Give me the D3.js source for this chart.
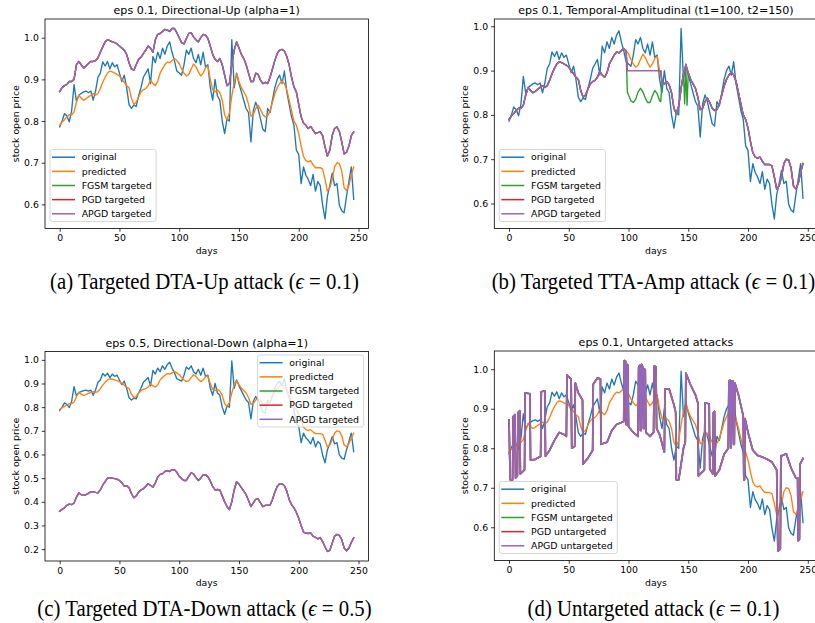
<!DOCTYPE html>
<html>
<head>
<meta charset="utf-8">
<script src="https://cdn.jsdelivr.net/npm/d3@7"></script>
<style>
body { margin: 0; background: #fff; }
svg text { font-family: "DejaVu Sans", sans-serif; fill: #000; }
.caption { font-family: "Liberation Serif", "DejaVu Serif", serif; }
</style>
</head>
<body>
<svg id="fig" width="815" height="623"></svg>
<script>
'use strict';

// one value every 2 days, days 0..246
var step = 2;

var original = [
  0.786, 0.800, 0.818, 0.812, 0.798, 0.825, 0.887, 0.848, 0.862, 0.866,
  0.870, 0.872, 0.868, 0.872, 0.850, 0.872, 0.905, 0.915, 0.942, 0.932,
  0.943, 0.925, 0.940, 0.930, 0.935, 0.915, 0.895, 0.910, 0.880, 0.840,
  0.830, 0.838, 0.835, 0.860, 0.880, 0.905, 0.915, 0.925, 0.890, 0.955,
  0.940, 0.965, 0.950, 0.975, 0.960, 0.980, 0.990, 0.965, 0.945, 0.920,
  0.915, 0.910, 0.935, 0.970, 0.960, 0.975, 0.950, 0.940, 0.960, 0.935,
  0.965, 0.930, 0.935, 0.880, 0.850, 0.900, 0.860, 0.850, 0.800, 0.770,
  0.805, 0.800, 0.995, 0.880, 0.915, 0.890, 0.870, 0.850, 0.830, 0.820,
  0.750, 0.825, 0.845, 0.830, 0.805, 0.780, 0.775, 0.830, 0.820, 0.850,
  0.880, 0.900, 0.910, 0.890, 0.920, 0.870, 0.840, 0.810, 0.790, 0.730,
  0.720, 0.650, 0.690, 0.670, 0.660, 0.645, 0.672, 0.632, 0.655, 0.645,
  0.598, 0.565, 0.620, 0.645, 0.675, 0.645, 0.650, 0.598, 0.585, 0.580,
  0.620, 0.655, 0.690, 0.612
];

var predicted = [
  0.790, 0.798, 0.803, 0.810, 0.815, 0.815, 0.822, 0.845, 0.862, 0.855,
  0.850, 0.853, 0.858, 0.862, 0.866, 0.862, 0.866, 0.878, 0.893, 0.905,
  0.915, 0.920, 0.918, 0.915, 0.912, 0.908, 0.900, 0.893, 0.885, 0.880,
  0.855, 0.840, 0.845, 0.858, 0.870, 0.875, 0.878, 0.885, 0.898, 0.890,
  0.885, 0.895, 0.915, 0.925, 0.935, 0.942, 0.940, 0.945, 0.950, 0.945,
  0.938, 0.925, 0.915, 0.908, 0.912, 0.925, 0.937, 0.930, 0.918, 0.908,
  0.915, 0.928, 0.932, 0.900, 0.875, 0.870, 0.875, 0.868, 0.850, 0.815,
  0.803, 0.820, 0.860, 0.893, 0.913, 0.895, 0.880, 0.870, 0.860, 0.840,
  0.812, 0.815, 0.830, 0.838, 0.828, 0.815, 0.810, 0.812, 0.825, 0.845,
  0.865, 0.880, 0.890, 0.896, 0.890, 0.875, 0.850, 0.825, 0.800, 0.790,
  0.770, 0.740, 0.715, 0.705, 0.702, 0.705, 0.695, 0.688, 0.688, 0.688,
  0.685, 0.660, 0.632, 0.640, 0.660, 0.690, 0.700, 0.698, 0.680, 0.640,
  0.633, 0.645, 0.670, 0.690
];

// (a) directional-up, eps 0.1
var upApgd = [
  0.871, 0.880, 0.885, 0.888, 0.895, 0.895, 0.900, 0.935, 0.943, 0.935,
  0.927, 0.932, 0.938, 0.943, 0.943, 0.945, 0.952, 0.965, 0.978, 0.990,
  0.995, 0.993, 0.990, 0.988, 0.985, 0.980, 0.975, 0.970, 0.960, 0.940,
  0.925, 0.922, 0.935, 0.948, 0.953, 0.962, 0.970, 0.980, 0.975, 0.965,
  0.995, 1.008, 1.010, 1.015, 1.020, 1.018, 1.015, 1.022, 1.022, 1.012,
  1.000, 0.988, 0.985, 0.998, 1.010, 1.012, 1.002, 0.995, 0.990, 1.000,
  1.008, 1.006, 0.998, 0.980, 0.960, 0.948, 0.943, 0.950, 0.935, 0.910,
  0.885, 0.890, 0.935, 0.970, 0.990, 0.975, 0.960, 0.950, 0.935, 0.915,
  0.895, 0.895, 0.915, 0.912, 0.898, 0.890, 0.893, 0.890, 0.905, 0.925,
  0.945, 0.962, 0.970, 0.972, 0.968, 0.955, 0.935, 0.905, 0.882, 0.870,
  0.840, 0.810, 0.795, 0.790, 0.782, 0.787, 0.778, 0.770, 0.772, 0.774,
  0.765, 0.738, 0.716, 0.730, 0.765, 0.782, 0.786, 0.775, 0.750, 0.721,
  0.725, 0.740, 0.765, 0.774
];

// (c) directional-down, eps 0.5
var downApgd = [
  0.360, 0.368, 0.375, 0.385, 0.390, 0.388, 0.395, 0.420, 0.438, 0.430,
  0.427, 0.430, 0.436, 0.442, 0.443, 0.440, 0.438, 0.450, 0.470, 0.485,
  0.500, 0.502, 0.500, 0.498, 0.496, 0.490, 0.480, 0.466, 0.468, 0.460,
  0.435, 0.417, 0.425, 0.440, 0.450, 0.455, 0.465, 0.476, 0.470, 0.462,
  0.480, 0.505, 0.516, 0.518, 0.528, 0.532, 0.528, 0.536, 0.535, 0.525,
  0.508, 0.498, 0.490, 0.490, 0.508, 0.522, 0.518, 0.502, 0.490, 0.500,
  0.514, 0.515, 0.505, 0.488, 0.465, 0.450, 0.452, 0.450, 0.425, 0.400,
  0.380, 0.367, 0.400, 0.450, 0.485, 0.475, 0.460, 0.445, 0.430, 0.405,
  0.380, 0.395, 0.410, 0.412, 0.395, 0.380, 0.385, 0.386, 0.385, 0.410,
  0.440, 0.465, 0.476, 0.476, 0.468, 0.445, 0.410, 0.388, 0.375, 0.355,
  0.330, 0.300, 0.272, 0.268, 0.266, 0.268, 0.255, 0.250, 0.243, 0.249,
  0.232, 0.210, 0.190, 0.195, 0.225, 0.255, 0.262, 0.258, 0.240, 0.205,
  0.193, 0.205, 0.228, 0.248
];

// (b) temporal-amplitudinal window t1=100..t2
var ampApgdDays = [99, 127];
var ampApgdVals = [0.900, 0.900];
var ampFgsmDays = [99, 100, 102, 104, 106, 108, 110, 112, 114, 116, 118, 120, 122, 124, 126, 127];
var ampFgsmVals = [0.852, 0.845, 0.832, 0.828, 0.835, 0.852, 0.860, 0.852, 0.838, 0.828, 0.828, 0.843, 0.855, 0.848, 0.832, 0.830];
var ampFgsmDays2 = [147, 148, 149];
var ampFgsmVals2 = [0.825, 0.905, 0.822];

// (d) untargeted, eps 0.1
var untDays = [
  0, 1, 3, 3.5, 5, 5.5, 7, 7.5, 9, 9.5,
  13, 13.5, 17.5, 18, 22, 26.5, 27, 30, 30.5, 34,
  38, 42, 46, 48, 48.5, 52, 52.5, 55, 55.5, 58,
  61.5, 62, 66, 70, 70.5, 74, 76.5, 77, 82, 86,
  90, 94, 96, 96.5, 97.5, 98, 98.5, 99, 99.5, 100,
  104, 108, 108.5, 109.5, 110, 110.5, 111, 112, 112.5, 113,
  113.5, 114, 114.5, 118, 121, 121.5, 123, 123.5, 126, 130,
  130.5, 134, 138, 139.5, 140, 142, 146, 147.5, 148, 152,
  156, 158, 158.5, 163.5, 164, 167.5, 168, 170.5, 171, 172,
  172.5, 176, 180, 183.5, 184, 185, 185.5, 186, 186.5, 187.5,
  188, 188.5, 189, 192, 196, 196.5, 197, 197.5, 200, 204,
  208, 212, 216, 220, 224, 225, 227, 227.5, 232, 236,
  240, 241.5, 242, 243, 243.5, 246
];
var untVals = [
  0.871, 0.720, 0.720, 0.880, 0.885, 0.725, 0.730, 0.890, 0.895, 0.735,
  0.745, 0.940, 0.938, 0.770, 0.772, 0.780, 0.943, 0.945, 0.780, 0.795,
  0.820, 0.840, 0.835, 0.830, 0.985, 0.975, 0.800, 0.805, 0.965, 0.940,
  0.922, 0.760, 0.775, 0.795, 0.962, 0.978, 0.975, 0.810, 0.815, 0.845,
  0.860, 0.865, 0.868, 1.022, 1.020, 0.860, 0.860, 1.012, 1.010, 0.855,
  0.840, 0.830, 1.005, 1.010, 0.845, 0.845, 1.012, 1.005, 0.850, 0.850,
  1.000, 0.998, 0.840, 0.830, 0.840, 1.008, 1.006, 0.850, 0.835, 0.790,
  0.950, 0.950, 0.910, 0.890, 0.720, 0.720, 0.800, 0.815, 0.990, 0.960,
  0.935, 0.915, 0.730, 0.745, 0.915, 0.912, 0.748, 0.735, 0.890, 0.893,
  0.730, 0.745, 0.785, 0.800, 0.970, 0.972, 0.800, 0.810, 0.970, 0.970,
  0.810, 0.810, 0.965, 0.935, 0.882, 0.720, 0.720, 0.875, 0.840, 0.795,
  0.782, 0.778, 0.772, 0.765, 0.745, 0.540, 0.545, 0.780, 0.786, 0.750,
  0.725, 0.725, 0.566, 0.570, 0.760, 0.774
];

var xTicks = [0, 50, 100, 150, 200, 250];
var yTicks = [0.6, 0.7, 0.8, 0.9, 1.0];
var yTicksDown = [0.2, 0.3, 0.4, 0.5, 0.6, 0.7, 0.8, 0.9, 1.0];

var targetedLabels = ["original", "predicted", "FGSM targeted", "PGD targeted", "APGD targeted"];
var untargetedLabels = ["original", "predicted", "FGSM untargeted", "PGD untargeted", "APGD untargeted"];
var colors = ["#1f77b4", "#ff7f0e", "#2ca02c", "#d62728", "#9467bd"];

// helpers to turn the arrays into [day, value] points
function pts(vals) {
    return vals.map(function(v, i) { return [i * step, v]; });
}
function pairs(days, vals) {
    return days.map(function(d, i) { return [d, vals[i]]; });
}
function replaceWindow(base, win, from, to) {
    return base.filter(function(p) { return p[0] < from || p[0] > to; })
        .concat(win)
        .sort(function(a, b) { return a[0] - b[0]; });
}

var ampApgd = replaceWindow(pts(predicted), pairs(ampApgdDays, ampApgdVals), 98.5, 127.5);
var ampFgsm = replaceWindow(
    replaceWindow(pts(predicted), pairs(ampFgsmDays, ampFgsmVals), 98.5, 127.5),
    pairs(ampFgsmDays2, ampFgsmVals2), 146.5, 149.5);
var unt = pairs(untDays, untVals);

var panels = [
    { left: 45, top: 19, title: "eps 0.1, Directional-Up (alpha=1)",
      series: [pts(original), pts(predicted), pts(upApgd), pts(upApgd), pts(upApgd)],
      yTicks: yTicks, labels: targetedLabels, loc: "lower left", attackWidth: 1.4 },
    { left: 494.3, top: 19, title: "eps 0.1, Temporal-Amplitudinal (t1=100, t2=150)",
      series: [pts(original), pts(predicted), ampFgsm, ampApgd, ampApgd],
      yTicks: yTicks, labels: targetedLabels, loc: "lower left", attackWidth: 1.4 },
    { left: 45, top: 351.5, title: "eps 0.5, Directional-Down (alpha=1)",
      series: [pts(original), pts(predicted), pts(downApgd), pts(downApgd), pts(downApgd)],
      yTicks: yTicksDown, labels: targetedLabels, loc: "upper right", attackWidth: 1.4 },
    { left: 494.3, top: 351, title: "eps 0.1, Untargeted attacks",
      series: [pts(original), pts(predicted), unt, unt, unt],
      yTicks: yTicks, labels: untargetedLabels, loc: "lower left", attackWidth: 1.7 }
];

// captions are centred under each sub-figure
var captions = [
    { x: 204.5, y: 289, pre: "(a) Targeted DTA-Up attack (", post: " = 0.1)" },
    { x: 653.5, y: 289, pre: "(b) Targeted TTA-Amp attack (", post: " = 0.1)" },
    { x: 204.5, y: 616, pre: "(c) Targeted DTA-Down attack (", post: " = 0.5)" },
    { x: 653.5, y: 616, pre: "(d) Untargeted attack (", post: " = 0.1)" }
];

var svg = d3.select("#fig");
var width = 323.4, height = 209.5;
var tickFont = 9.3;

panels.forEach(function(p, pi) {
    var g = svg.append("g")
        .attr("transform", "translate(" + p.left + "," + p.top + ")");

    var x = d3.scaleLinear().domain([-12.3, 258.3]).range([0, width]);

    // autoscale like matplotlib: data range plus 5% each side
    var all = [].concat.apply([], p.series).map(function(d) { return d[1]; });
    var lo = d3.min(all), hi = d3.max(all), pad = (hi - lo) * 0.05;
    var y = d3.scaleLinear().domain([lo - pad, hi + pad]).range([height, 0]);

    g.append("clipPath").attr("id", "clip" + pi)
      .append("rect").attr("width", width).attr("height", height);

    var line = d3.line()
        .x(function(d) { return x(d[0]); })
        .y(function(d) { return y(d[1]); });

    var plot = g.append("g").attr("clip-path", "url(#clip" + pi + ")");
    p.series.forEach(function(s, si) {
        plot.append("path")
            .attr("d", line(s))
            .attr("fill", "none")
            .attr("stroke", colors[si])
            .attr("stroke-width", si < 2 ? 1.35 : p.attackWidth)
            .attr("stroke-linejoin", "round")
            .attr("stroke-linecap", "square");
    });

    // axes
    var xAxis = g.append("g")
        .attr("transform", "translate(0," + height + ")")
        .call(d3.axisBottom(x).tickValues(xTicks).tickSize(3.2).tickPadding(3));
    var yAxis = g.append("g")
        .call(d3.axisLeft(y).tickValues(p.yTicks).tickSize(3.2).tickPadding(3).tickFormat(d3.format(".1f")));
    [xAxis, yAxis].forEach(function(a) {
        a.select(".domain").remove();
        a.selectAll(".tick line").attr("stroke", "#000").attr("stroke-width", 0.8);
        a.selectAll(".tick text").attr("font-size", tickFont)
            .style("font-family", "DejaVu Sans").attr("fill", "#000");
    });

    g.append("rect")
        .attr("width", width).attr("height", height)
        .attr("fill", "none").attr("stroke", "#000").attr("stroke-width", 0.8);

    // title and axis labels
    g.append("text")
        .attr("x", width / 2).attr("y", -5)
        .attr("text-anchor", "middle")
        .attr("font-size", 11.1)
        .text(p.title);
    g.append("text")
        .attr("x", width / 2).attr("y", height + 25)
        .attr("text-anchor", "middle")
        .attr("font-size", tickFont)
        .text("days");
    g.append("text")
        .attr("transform", "rotate(-90)")
        .attr("x", -height / 2).attr("y", -26.5)
        .attr("text-anchor", "middle")
        .attr("font-size", tickFont)
        .text("stock open price");

    // legend
    var lg = g.append("g");
    var box = lg.append("rect");
    var rowH = 14.15, textX = 31.7, maxW = 0;
    var items = p.labels.map(function(lab, i) {
        var t = lg.append("text")
            .attr("font-size", 9.4)
            .attr("dy", "0.35em")
            .text(lab);
        maxW = Math.max(maxW, t.node().getComputedTextLength());
        return t;
    });
    var bw = textX + maxW + 4.5, bh = 72;
    var bx = p.loc === "upper right" ? width - 4.7 - bw : 5;
    var by = p.loc === "upper right" ? 3.5 : height - 7 - bh;
    box.attr("x", bx).attr("y", by).attr("width", bw).attr("height", bh)
        .attr("rx", 2.5)
        .attr("fill", "#fff").attr("fill-opacity", 0.8)
        .attr("stroke", "#ccc").attr("stroke-width", 0.8);
    items.forEach(function(t, i) {
        var cy = by + 7.7 + i * rowH;
        t.attr("x", bx + textX).attr("y", cy);
        lg.append("line")
            .attr("x1", bx + 2).attr("x2", bx + 25)
            .attr("y1", cy).attr("y2", cy)
            .attr("stroke", colors[i]).attr("stroke-width", 1.5);
    });
});

// sub-figure captions (the paper's serif text is a little taller than wide)
captions.forEach(function(c) {
    var t = svg.append("text")
        .attr("class", "caption")
        .attr("text-anchor", "middle")
        .attr("transform", "translate(" + c.x + "," + c.y + ") scale(1,1.1)")
        .attr("font-size", 20.8);
    t.append("tspan").text(c.pre);
    t.append("tspan").attr("font-style", "italic").text("\u03f5");
    t.append("tspan").text(c.post);
});
</script>
</body>
</html>
